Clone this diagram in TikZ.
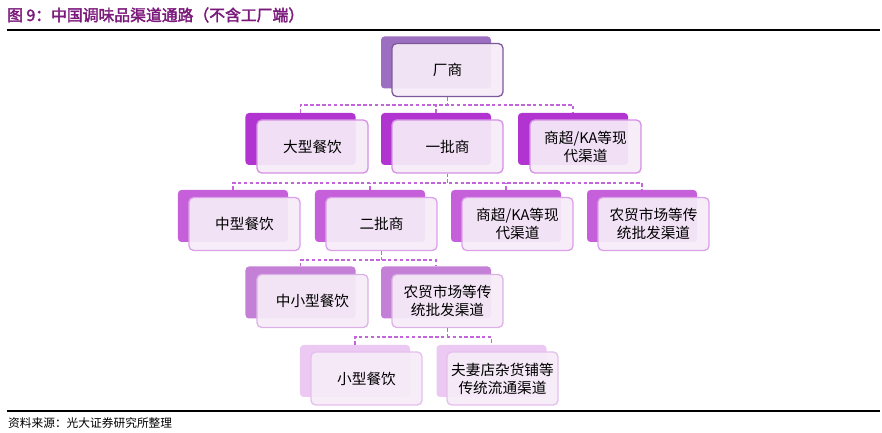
\documentclass[tikz,border=0pt]{standalone}
\usepackage{fontspec}
\setmainfont{Noto Sans CJK SC}[AutoFakeBold=2.5]
\usetikzlibrary{positioning}

\definecolor{titlec}{RGB}{123, 26, 123}
\definecolor{lvA}{RGB}{156, 111, 192}
\definecolor{lvB}{RGB}{178, 52, 208}
\definecolor{lvC}{RGB}{197, 95, 218}
\definecolor{lvD}{RGB}{196, 127, 214}
\definecolor{lvE}{RGB}{236, 201, 242}
\definecolor{frontfill}{RGB}{246, 236, 248}
\definecolor{linkc}{RGB}{196, 100, 220}

\tikzset{
  back/.style={draw=none, fill=#1, rounded corners=3pt, minimum width=3.3cm, minimum height=1.56cm},
  front/.style={draw=#1, line width=1.1pt, fill=frontfill, fill opacity=0.93, text opacity=1,
    rounded corners=4pt, minimum width=3.33cm, minimum height=1.59cm, align=center,
    font=\fontsize{12.5}{15.5}\selectfont},
  link/.style={draw=linkc, dash pattern=on 3pt off 2pt, line width=1.1pt},
}

\begin{document}
\begin{tikzpicture}[x=0.03cm, y=-0.03cm]
  \useasboundingbox (0,0) rectangle (882,433);

  % header and footer
  \node[anchor=west, text=titlec, font=\bfseries\fontsize{13.5}{15}\selectfont] (title) at (3,15) {图 9：中国调味品渠道通路（不含工厂端）};
  \draw[line width=0.9pt] (7,30) -- (880,30);
  \draw[line width=0.9pt] (7,411) -- (880,411);
  \node[anchor=west, font=\fontsize{10}{12}\selectfont] (src) at (4,423) {资料来源：光大证券研究所整理};

  % level 0
  \node[back=lvA] (bmaker) at (436,62.5) {};
  \node[front=lvA!80!black] (maker) at (447.5,70) {厂商};

  % level 1
  \node[back=lvB] (bbig) at (300.5,139) {};
  \node[front=lvB!55] (big) at (312.5,146.5) {大型餐饮};
  \node[back=lvB] (bfirst) at (436,139) {};
  \node[front=lvB!55] (first) at (447.5,146.5) {一批商};
  \node[back=lvB] (bsuperA) at (573,139) {};
  \node[front=lvB!55] (superA) at (585.5,146.5) {商超/KA等现\\代渠道};

  % level 2
  \node[back=lvC] (bmid) at (233,216) {};
  \node[front=lvC!60] (mid) at (244.5,224) {中型餐饮};
  \node[back=lvC] (bsecond) at (370,216) {};
  \node[front=lvC!60] (second) at (381.5,224) {二批商};
  \node[back=lvC] (bsuperB) at (506,216) {};
  \node[front=lvC!60] (superB) at (517.5,224) {商超/KA等现\\代渠道};
  \node[back=lvC] (bfarmA) at (642,216) {};
  \node[front=lvC!60] (farmA) at (653.5,224) {农贸市场等传\\统批发渠道};

  % level 3
  \node[back=lvD] (bsmid) at (300.5,292.5) {};
  \node[front=lvD!60] (smid) at (312.5,301) {中小型餐饮};
  \node[back=lvD] (bfarmB) at (436,292.5) {};
  \node[front=lvD!60] (farmB) at (447.5,301) {农贸市场等传\\统批发渠道};

  % level 4
  \node[back=lvE] (bsmall) at (355,371) {};
  \node[front=lvE!85!lvD] (small) at (366.5,378.5) {小型餐饮};
  \node[back=lvE] (bshop) at (491.5,371) {};
  \node[front=lvE!85!lvD] (shop) at (502.5,378.5) {夫妻店杂货铺等\\传统流通渠道};

  % connectors
  \coordinate (j1) at (0,105);
  \coordinate (j2) at (0,183);
  \coordinate (j3) at (0,260);
  \coordinate (j4) at (0,337);
  \draw[link] (maker.south) -- (maker.south |- j1);
  \draw[link] (bbig.north) |- (j1 -| bsuperA.north) -- (bsuperA.north);
  \draw[link] (bfirst.north) -- (bfirst.north |- j1);
  \draw[link] (first.south) -- (first.south |- j2);
  \draw[link] (bmid.north) |- (j2 -| bfarmA.north) -- (bfarmA.north);
  \draw[link] (bsecond.north) -- (bsecond.north |- j2);
  \draw[link] (bsuperB.north) -- (bsuperB.north |- j2);
  \draw[link] (second.south) -- (second.south |- j3);
  \draw[link] (bsmid.north) |- (j3 -| bfarmB.north) -- (bfarmB.north);
  \draw[link] (farmB.south) -- (farmB.south |- j4);
  \draw[link] (bsmall.north) |- (j4 -| bshop.north) -- (bshop.north);
\end{tikzpicture}
\end{document}
